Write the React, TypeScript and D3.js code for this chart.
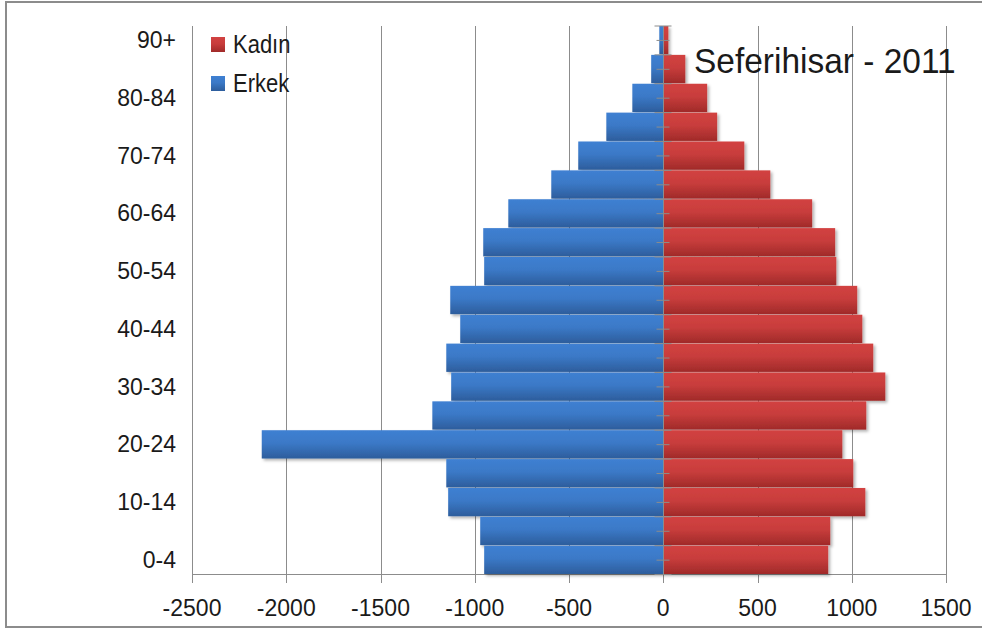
import React, { useEffect, useRef } from 'react';
import * as d3 from 'd3';

// age groups, bottom to top
const ageGroups = [
  '0-4', '5-9', '10-14', '15-19', '20-24', '25-29', '30-34', '35-39', '40-44',
  '45-49', '50-54', '55-59', '60-64', '65-69', '70-74', '75-79', '80-84', '85-89', '90+'
];

// Erkek (male) values are stored negative so they go left of zero
const erkek = [
  -950, -971, -1141, -1151, -2130, -1225, -1125, -1151, -1077,
  -1130, -950, -955, -822, -594, -451, -302, -164, -64, -21
];

const kadin = [
  875, 886, 1072, 1008, 950, 1077, 1178, 1114, 1056,
  1029, 918, 912, 790, 568, 430, 286, 233, 117, 27
];

const xTicks = [-2500, -2000, -1500, -1000, -500, 0, 500, 1000, 1500];
const labelGroups = ['0-4', '10-14', '20-24', '30-34', '40-44', '50-54', '60-64', '70-74', '80-84', '90+'];

const W = 982;
const H = 631;
const FONT = "'Liberation Sans', Arial, sans-serif";

const App: React.FC = () => {
  const svgRef = useRef<SVGSVGElement>(null);

  useEffect(() => {
    if (!svgRef.current) return;
    const svg = d3.select(svgRef.current);
    svg.selectAll('*').remove();

    const plot = { left: 192, right: 946, top: 26, bottom: 574 };

    const x = d3.scaleLinear().domain([-2500, 1500]).range([plot.left, plot.right]);
    const y = d3.scaleBand<string>()
      .domain([...ageGroups].reverse())
      .range([plot.top, plot.bottom])
      .paddingInner(0.02);

    const defs = svg.append('defs');
    const grad = (id: string, top: string, bottom: string) => {
      const g = defs.append('linearGradient').attr('id', id)
        .attr('x1', 0).attr('y1', 0).attr('x2', 0).attr('y2', 1);
      g.append('stop').attr('offset', '0%').attr('stop-color', top);
      g.append('stop').attr('offset', '45%').attr('stop-color', d3.interpolateRgb(top, bottom)(0.2));
      g.append('stop').attr('offset', '100%').attr('stop-color', bottom);
    };
    grad('blueGrad', '#3f80d2', '#2d5d9c');
    grad('redGrad', '#d24241', '#a02a29');

    const shadow = defs.append('filter').attr('id', 'barShadow')
      .attr('x', '-5%').attr('y', '-20%').attr('width', '115%').attr('height', '160%');
    shadow.append('feDropShadow')
      .attr('dx', 2).attr('dy', 2).attr('stdDeviation', 1.5)
      .attr('flood-color', '#000').attr('flood-opacity', 0.3);

    // small helper, sx lets a label be squeezed a little to fit the original widths
    const label = (
      g: d3.Selection<any, unknown, null, undefined>,
      tx: number, ty: number, txt: string, size: number, sx: number, anchor: string
    ) => {
      g.append('text')
        .attr('transform', `translate(${tx},${ty}) scale(${sx},1)`)
        .attr('dy', '0.35em')
        .attr('text-anchor', anchor)
        .attr('font-family', FONT)
        .attr('font-size', size)
        .attr('fill', '#1a1a1a')
        .text(txt);
    };

    // chart frame (right edge runs off the picture)
    svg.append('rect')
      .attr('x', 6).attr('y', 2).attr('width', W + 10).attr('height', 625)
      .attr('fill', '#fff').attr('stroke', '#8c8c8c').attr('stroke-width', 2);

    // vertical gridlines
    svg.append('g')
      .selectAll('line')
      .data(xTicks)
      .join('line')
      .attr('x1', d => Math.round(x(d)) + 0.5)
      .attr('x2', d => Math.round(x(d)) + 0.5)
      .attr('y1', plot.top)
      .attr('y2', plot.bottom + 9)
      .attr('stroke', '#8c8c8c')
      .attr('stroke-width', 1);

    // bottom axis line
    svg.append('line')
      .attr('x1', plot.left).attr('x2', plot.right + 1)
      .attr('y1', plot.bottom + 0.5).attr('y2', plot.bottom + 0.5)
      .attr('stroke', '#8c8c8c');

    const bars = svg.append('g').attr('filter', 'url(#barShadow)');

    bars.selectAll('rect.erkek')
      .data(ageGroups.map((g, i) => ({ g, v: erkek[i] })))
      .join('rect')
      .attr('class', 'erkek')
      .attr('x', d => x(d.v))
      .attr('width', d => x(0) - x(d.v))
      .attr('y', d => y(d.g)!)
      .attr('height', y.bandwidth())
      .attr('fill', 'url(#blueGrad)');

    bars.selectAll('rect.kadin')
      .data(ageGroups.map((g, i) => ({ g, v: kadin[i] })))
      .join('rect')
      .attr('class', 'kadin')
      .attr('x', x(0))
      .attr('width', d => x(d.v) - x(0))
      .attr('y', d => y(d.g)!)
      .attr('height', y.bandwidth())
      .attr('fill', 'url(#redGrad)');

    // category axis at zero, drawn over the bars
    const x0 = Math.round(x(0)) + 0.5;
    const step = y.step();
    svg.append('line')
      .attr('x1', x0).attr('x2', x0)
      .attr('y1', plot.top).attr('y2', plot.bottom)
      .attr('stroke', '#8c8c8c');

    const tickG = svg.append('g').attr('stroke', '#8c8c8c');
    d3.range(ageGroups.length + 1).forEach(i => {
      const yy = plot.top + i * step;
      tickG.append('line').attr('x1', x0 - 9).attr('x2', x0 + 8).attr('y1', yy).attr('y2', yy);
      if (i < ageGroups.length) {
        tickG.append('line').attr('x1', x0 - 7).attr('x2', x0 + 6)
          .attr('y1', yy + step / 2).attr('y2', yy + step / 2);
      }
    });

    // category labels
    const catG = svg.append('g');
    labelGroups.forEach(d => label(catG, 176, y(d)! + y.bandwidth() / 2, d, 23, 1, 'end'));

    // value axis labels
    const valG = svg.append('g');
    xTicks.forEach(d => label(valG, x(d), 608, String(d), 23, 1, 'middle'));

    // legend
    const legend = svg.append('g');
    const items = [
      { label: 'Kadın', fill: 'url(#redGrad)', y: 37 },
      { label: 'Erkek', fill: 'url(#blueGrad)', y: 76 }
    ];
    items.forEach(it => {
      legend.append('rect')
        .attr('x', 211).attr('y', it.y).attr('width', 14).attr('height', 15)
        .attr('fill', it.fill);
      label(legend, 233, it.y + 7.5, it.label, 25, 0.88, 'start');
    });

    // title
    label(svg, 694, 60, 'Seferihisar - 2011', 36, 0.93, 'start');
  }, []);

  return (
    <svg
      ref={svgRef}
      width={W}
      height={H}
      style={{ position: 'absolute', left: 0, top: 0, background: '#fff' }}
    />
  );
};

export default App;
